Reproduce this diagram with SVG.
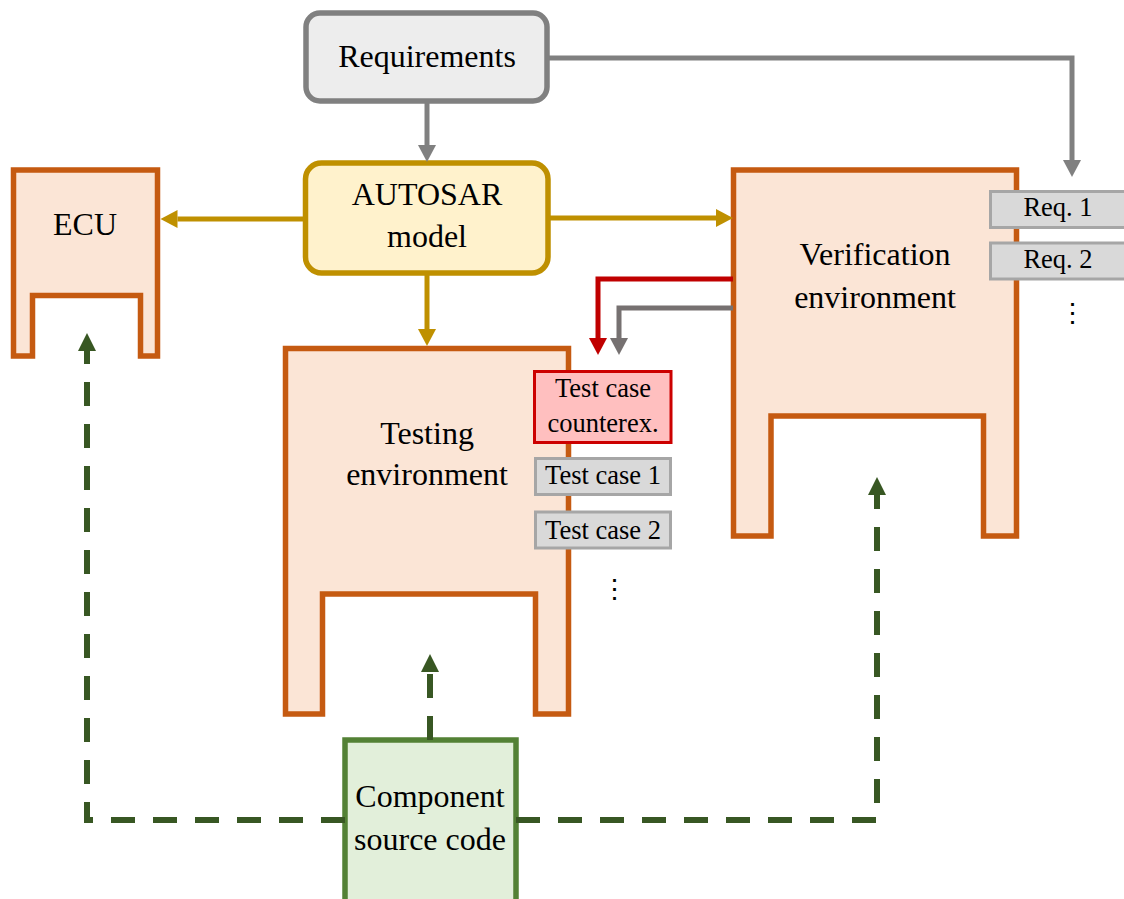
<svg xmlns="http://www.w3.org/2000/svg" width="1124" height="899" viewBox="0 0 1124 899">
  <style>
    text { font-family: "Liberation Serif", "Times New Roman", serif; fill: #000; text-anchor: middle; }
    .big { font-size: 32px; }
    .small { font-size: 26.5px; }
    .env { fill: #fbe5d6; stroke: #c55a11; stroke-width: 5.5; stroke-linejoin: miter; }
    .item { fill: #d9d9d9; stroke: #a6a6a6; stroke-width: 3; }
    .conn { fill: none; stroke-width: 5; stroke-linejoin: miter; }
    .gray { stroke: #808080; }
    .gold { stroke: #bf9000; }
    .red { stroke: #c00000; }
    .warm { stroke: #767171; }
    .green { stroke: #385723; stroke-width: 6; stroke-dasharray: 24 18; }
  </style>
  <defs>
    <marker id="ah-gray" markerUnits="userSpaceOnUse" markerWidth="18" markerHeight="18" refX="0" refY="9" orient="auto">
      <path d="M0,0 L17,9 L0,18 Z" fill="#808080"/>
    </marker>
    <marker id="ah-gold" markerUnits="userSpaceOnUse" markerWidth="18" markerHeight="18" refX="0" refY="9" orient="auto">
      <path d="M0,0 L17,9 L0,18 Z" fill="#bf9000"/>
    </marker>
    <marker id="ah-red" markerUnits="userSpaceOnUse" markerWidth="18" markerHeight="18" refX="0" refY="9" orient="auto">
      <path d="M0,0 L17,9 L0,18 Z" fill="#c00000"/>
    </marker>
    <marker id="ah-warm" markerUnits="userSpaceOnUse" markerWidth="18" markerHeight="18" refX="0" refY="9" orient="auto">
      <path d="M0,0 L17,9 L0,18 Z" fill="#767171"/>
    </marker>
    <marker id="ah-green" markerUnits="userSpaceOnUse" markerWidth="18" markerHeight="18" refX="0" refY="9" orient="auto">
      <path d="M0,0 L18,9 L0,18 Z" fill="#385723"/>
    </marker>
  </defs>

  <!-- Requirements -->
  <g id="requirements">
    <rect x="306" y="13" width="241" height="88" rx="14" fill="#ededed" stroke="#808080" stroke-width="5.5"/>
    <text class="big" x="427" y="67">Requirements</text>
  </g>

  <!-- AUTOSAR model -->
  <g id="autosar">
    <rect x="305.5" y="163" width="242.5" height="110" rx="16" fill="#fff2cc" stroke="#bf9000" stroke-width="5.5"/>
    <text class="big" x="427" y="205">AUTOSAR</text>
    <text class="big" x="427" y="247">model</text>
  </g>

  <!-- ECU -->
  <g id="ecu">
    <path class="env" d="M13.5,170 H157.5 V356 H140.5 V295.5 H32.5 V356 H13.5 Z"/>
    <text class="big" x="85" y="235">ECU</text>
  </g>

  <!-- Testing environment -->
  <g id="testing">
    <path class="env" d="M285.5,348.5 H568.5 V714 H535.5 V594 H322.5 V714 H285.5 Z"/>
    <text class="big" x="427" y="444">Testing</text>
    <text class="big" x="427" y="485">environment</text>
  </g>

  <!-- Verification environment -->
  <g id="verification">
    <path class="env" d="M733.5,170 H1016.5 V536 H983.5 V416 H771 V536 H733.5 Z"/>
    <text class="big" x="875" y="265">Verification</text>
    <text class="big" x="875" y="308">environment</text>
  </g>

  <!-- Requirement items -->
  <g id="req1">
    <rect class="item" x="990.5" y="191.5" width="136" height="36"/>
    <text class="small" x="1058" y="216">Req. 1</text>
  </g>
  <g id="req2">
    <rect class="item" x="990.5" y="243" width="136" height="36"/>
    <text class="small" x="1058" y="267.5">Req. 2</text>
  </g>
  <g id="req-more">
    <text class="small" x="1072" y="322">⋮</text>
  </g>

  <!-- Test case items -->
  <g id="counterexample">
    <rect x="534.5" y="371.5" width="136.5" height="71" fill="#ffbfbf" stroke="#cc0000" stroke-width="3"/>
    <text class="small" x="603" y="397">Test case</text>
    <text class="small" x="603" y="432">counterex.</text>
  </g>
  <g id="testcase1">
    <rect class="item" x="535.5" y="458.5" width="135" height="36"/>
    <text class="small" x="603" y="484">Test case 1</text>
  </g>
  <g id="testcase2">
    <rect class="item" x="535.5" y="512" width="135" height="36"/>
    <text class="small" x="603" y="538.5">Test case 2</text>
  </g>
  <g id="testcase-more">
    <text class="small" x="614" y="598">⋮</text>
  </g>

  <!-- Component source code -->
  <g id="component">
    <rect x="345" y="740" width="171" height="170" fill="#e2efda" stroke="#538135" stroke-width="5.5"/>
    <text class="big" x="430" y="807">Component</text>
    <text class="big" x="430" y="850">source code</text>
  </g>

  <!-- Connectors -->
  <g id="connectors">
    <path class="conn gray" d="M427,101 V145" marker-end="url(#ah-gray)"/>
    <path class="conn gray" d="M547,58 H1072 V160" marker-end="url(#ah-gray)"/>
    <path class="conn gold" d="M305,219 H177.5" marker-end="url(#ah-gold)"/>
    <path class="conn gold" d="M548,218 H716" marker-end="url(#ah-gold)"/>
    <path class="conn gold" d="M427,273 V329" marker-end="url(#ah-gold)"/>
    <path class="conn red" d="M733,279 H598 V338" marker-end="url(#ah-red)"/>
    <path class="conn warm" d="M733,308 H619 V338" marker-end="url(#ah-warm)"/>
    <path class="conn green" d="M345,820 H87 V351" marker-end="url(#ah-green)"/>
    <path class="conn green" d="M516,820 H877 V495" marker-end="url(#ah-green)"/>
    <path class="conn green" d="M430,740 V672" marker-end="url(#ah-green)"/>
  </g>
</svg>
